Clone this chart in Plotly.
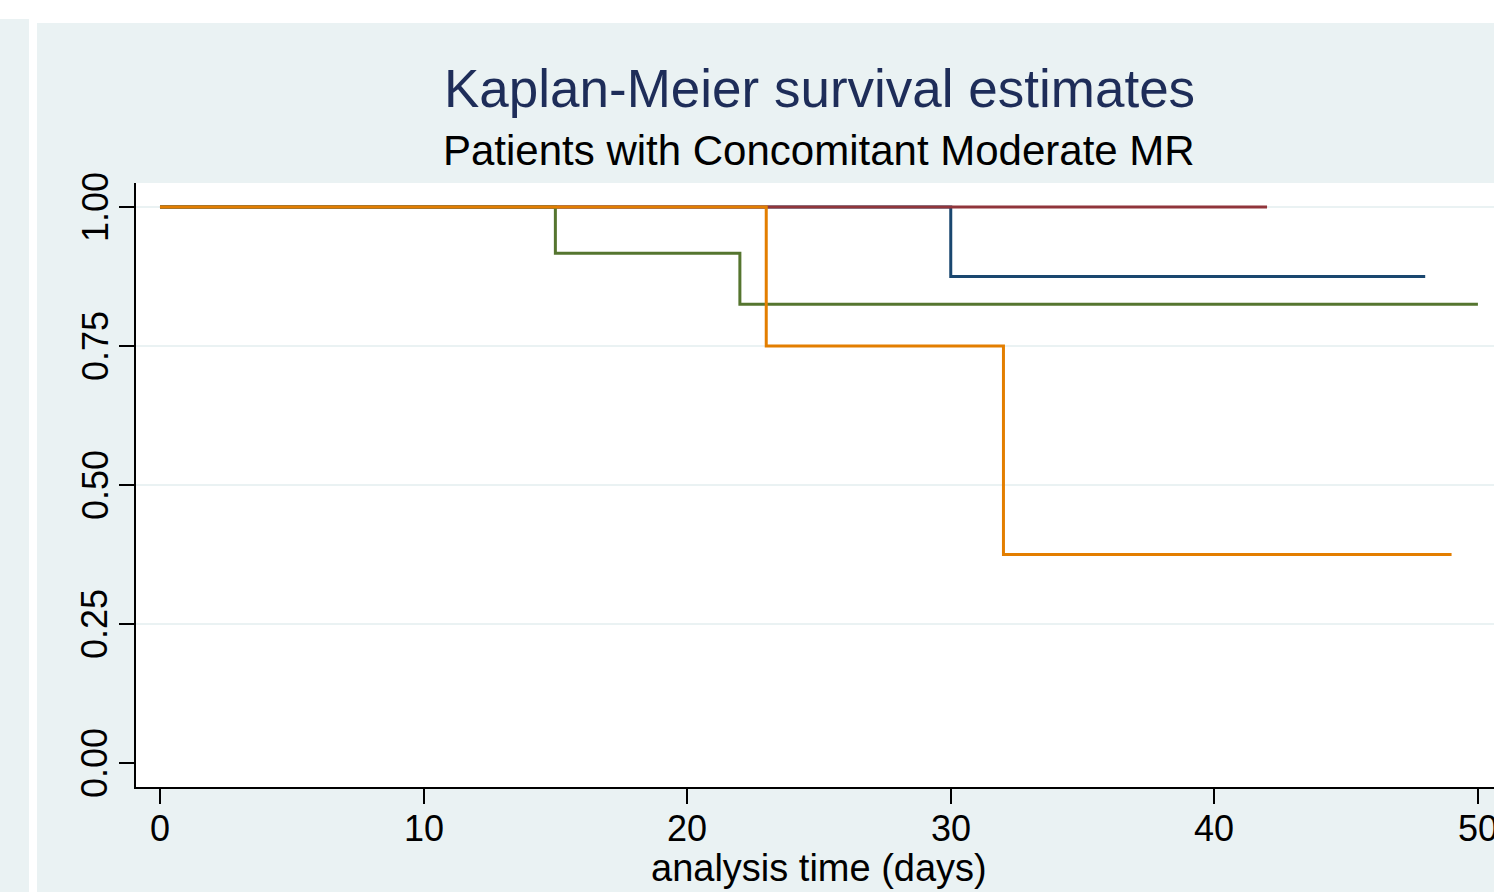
import plotly.graph_objects as go

# ---- data ----
navy_t = [0, 30, 48]
navy_s = [1.0, 0.875, 0.875]
maroon_t = [0, 42]
maroon_s = [1.0, 1.0]
green_t = [0, 15, 22, 50]
green_s = [1.0, 0.9167, 0.825, 0.825]
orange_t = [0, 23, 32, 49]
orange_s = [1.0, 0.75, 0.375, 0.375]

x_ticks = [0, 10, 20, 30, 40, 50]
x_ticktext = ["0", "10", "20", "30", "40", "50"]
y_ticks = [0, 0.25, 0.5, 0.75, 1.0]
y_ticktext = ["0.00", "0.25", "0.50", "0.75", "1.00"]
grid_vals = [0.25, 0.5, 0.75, 1.0]

title_text = "Kaplan-Meier survival estimates"
subtitle_text = "Patients with Concomitant Moderate MR"
xaxis_title = "analysis time (days)"

# ---- styles ----
W, H = 1494, 892
ML, MR, MT, MB = 136, 0, 183, 105
PW, PH = W - ML - MR, H - MT - MB
BG = "#eaf2f3"
FONT = "Liberation Sans, Arial, Helvetica, sans-serif"


def px_x(p):
    return (p - ML) / PW


def px_y(p):
    return (H - MB - p) / PH


series = [
    (navy_t, navy_s, "#1a476f"),
    (maroon_t, maroon_s, "#90353b"),
    (green_t, green_s, "#55752f"),
    (orange_t, orange_s, "#e37e00"),
]

fig = go.Figure()
for t, s, c in series:
    fig.add_trace(go.Scatter(x=t, y=s, mode="lines", line=dict(color=c, width=3, shape="hv"),
                             showlegend=False, hoverinfo="skip"))

shapes = []
for g in grid_vals:
    shapes.append(dict(type="line", xref="paper", yref="y", x0=0, x1=1, y0=g, y1=g,
                       line=dict(color=BG, width=2), layer="below"))
# white gaps around the panel
for (x0, x1, y0, y1) in [(0, W, 0, 19), (29, W, 0, 23), (29, 37, 0, H)]:
    shapes.append(dict(type="rect", xref="paper", yref="paper",
                       x0=px_x(x0), x1=px_x(x1), y0=px_y(y1), y1=px_y(y0),
                       fillcolor="white", line=dict(width=0), layer="below"))

annotations = [
    dict(text=title_text, x=px_x(819), y=px_y(89), xref="paper", yref="paper",
         xanchor="center", yanchor="middle", showarrow=False,
         font=dict(family=FONT, size=53, color="#1e2d59")),
    dict(text=subtitle_text, x=px_x(819), y=px_y(150), xref="paper", yref="paper",
         xanchor="center", yanchor="middle", showarrow=False,
         font=dict(family=FONT, size=42, color="black")),
    dict(text=xaxis_title, x=px_x(819), y=px_y(868), xref="paper", yref="paper",
         xanchor="center", yanchor="middle", showarrow=False,
         font=dict(family=FONT, size=38, color="black")),
]
# tick labels as annotations (allows the clipped "50" at the right edge)
for v, t in zip(x_ticks, x_ticktext):
    annotations.append(dict(text=t, x=v, xref="x", y=px_y(828), yref="paper",
                            xanchor="center", yanchor="middle", showarrow=False,
                            font=dict(family=FONT, size=36, color="black")))
for v, t in zip(y_ticks, y_ticktext):
    annotations.append(dict(text=t, y=v, yref="y", x=px_x(95), xref="paper",
                            xanchor="center", yanchor="middle", showarrow=False, textangle=-90,
                            font=dict(family=FONT, size=36, color="black")))

fig.update_layout(
    width=W, height=H,
    margin=dict(l=ML, r=MR, t=MT, b=MB, pad=0),
    paper_bgcolor=BG, plot_bgcolor="white",
    shapes=shapes, annotations=annotations,
    font=dict(family=FONT, color="black"),
    xaxis=dict(range=[-0.91, 50.61], tickvals=x_ticks, showticklabels=False,
               showgrid=False, zeroline=False,
               showline=True, linecolor="black", linewidth=2,
               ticks="outside", ticklen=15, tickwidth=2, tickcolor="black"),
    yaxis=dict(range=[-0.0432, 1.0432], tickvals=y_ticks, showticklabels=False,
               showgrid=False, zeroline=False,
               showline=True, linecolor="black", linewidth=2,
               ticks="outside", ticklen=15, tickwidth=2, tickcolor="black"),
)

fig.write_html("out.html")
